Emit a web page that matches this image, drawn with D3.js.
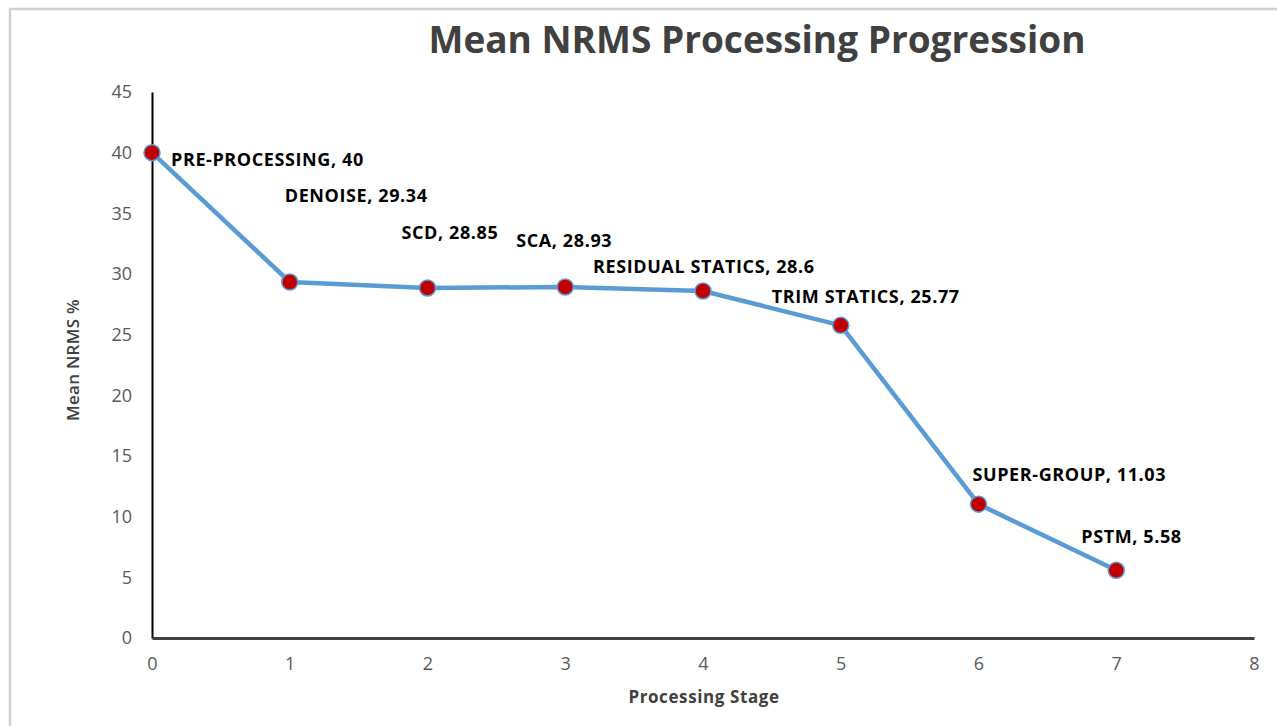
<!DOCTYPE html>
<html>
<head>
<meta charset="utf-8">
<script src="https://cdn.jsdelivr.net/npm/d3@7"></script>
<style>
  body { margin: 0; background: #fff; }
  svg { display: block; }
  text { font-family: "Open Sans", "Liberation Sans", sans-serif; }
</style>
</head>
<body>
<svg id="chart" width="1277" height="726"></svg>
<script>
// Processing stages and their mean NRMS values
const stageNames = ["PRE-PROCESSING", "DENOISE", "SCD", "SCA", "RESIDUAL STATICS", "TRIM STATICS", "SUPER-GROUP", "PSTM"];
const stageIndex = [0, 1, 2, 3, 4, 5, 6, 7];
const meanNrms = [40, 29.34, 28.85, 28.93, 28.6, 25.77, 11.03, 5.58];
const xTicks = [0, 1, 2, 3, 4, 5, 6, 7, 8];
const yTicks = [0, 5, 10, 15, 20, 25, 30, 35, 40, 45];

// label placement relative to each point (px): left edge, vertical centre
const labelOffsets = [
  [19, 7], [-5, -86], [-26, -55], [-49, -46], [-110, -24], [-69, -29], [-6, -29], [-35, -34]
];

const svg = d3.select("#chart");
const W = 1277, H = 726;

// outer frame
svg.append("rect")
  .attr("x", 10).attr("y", 9)
  .attr("width", W + 20).attr("height", H + 20)
  .attr("fill", "none").attr("stroke", "#cfcfcf").attr("stroke-width", 2.5);

const x = d3.scaleLinear().domain([0, 8]).range([152, 1254]);
const y = d3.scaleLinear().domain([0, 45]).range([638, 92]);

// title
svg.append("text")
  .attr("x", 757).attr("y", 53)
  .attr("text-anchor", "middle")
  .attr("font-size", 37).attr("font-weight", 700)
  .attr("fill", "#404040")
  .text("Mean NRMS Processing Progression");

// y axis
const yAxis = d3.axisLeft(y).tickValues(yTicks).tickSize(0).tickPadding(20);
const gy = svg.append("g").attr("transform", `translate(${x(0)},0)`).call(yAxis);
gy.select(".domain").attr("stroke", "#000").attr("stroke-width", 2);
gy.selectAll("text").attr("font-size", 18).attr("fill", "#595959")
  .style("font-family", "'Open Sans', sans-serif");

// x axis
const xAxis = d3.axisBottom(x).tickValues(xTicks).tickSize(0).tickPadding(19);
const gx = svg.append("g").attr("transform", `translate(0,${y(0)})`).call(xAxis);
gx.select(".domain").attr("stroke", "#404040").attr("stroke-width", 3);
gx.selectAll("text").attr("font-size", 18).attr("fill", "#595959")
  .style("font-family", "'Open Sans', sans-serif");

// axis titles
svg.append("text")
  .attr("x", 704).attr("y", 703)
  .attr("text-anchor", "middle")
  .attr("font-size", 17).attr("font-weight", 700)
  .attr("letter-spacing", 0.6)
  .attr("fill", "#404040")
  .text("Processing Stage");

svg.append("text")
  .attr("transform", `translate(79,360) rotate(-90)`)
  .attr("text-anchor", "middle")
  .attr("font-size", 17).attr("font-weight", 600)
  .attr("letter-spacing", 0.3)
  .attr("fill", "#404040")
  .text("Mean NRMS %");

// series line
const points = stageIndex.map((s, i) => ({ s, v: meanNrms[i], name: stageNames[i] }));
const line = d3.line().x(d => x(d.s)).y(d => y(d.v));
svg.append("path")
  .datum(points)
  .attr("d", line)
  .attr("fill", "none")
  .attr("stroke", "#5b9bd5")
  .attr("stroke-width", 4.5)
  .attr("stroke-linejoin", "round");

// markers
svg.append("g").selectAll("circle")
  .data(points)
  .join("circle")
  .attr("cx", d => x(d.s))
  .attr("cy", d => y(d.v))
  .attr("r", 8)
  .attr("fill", "#c00000")
  .attr("stroke", "#5b9bd5")
  .attr("stroke-width", 1.5);

// data labels
svg.append("g").selectAll("text")
  .data(points)
  .join("text")
  .attr("x", (d, i) => x(d.s) + labelOffsets[i][0])
  .attr("y", (d, i) => y(d.v) + labelOffsets[i][1])
  .attr("dy", "0.35em")
  .attr("font-size", 18).attr("font-weight", 700)
  .attr("letter-spacing", 0.6)
  .attr("fill", "#000")
  .text(d => `${d.name}, ${d.v}`);
</script>
</body>
</html>
